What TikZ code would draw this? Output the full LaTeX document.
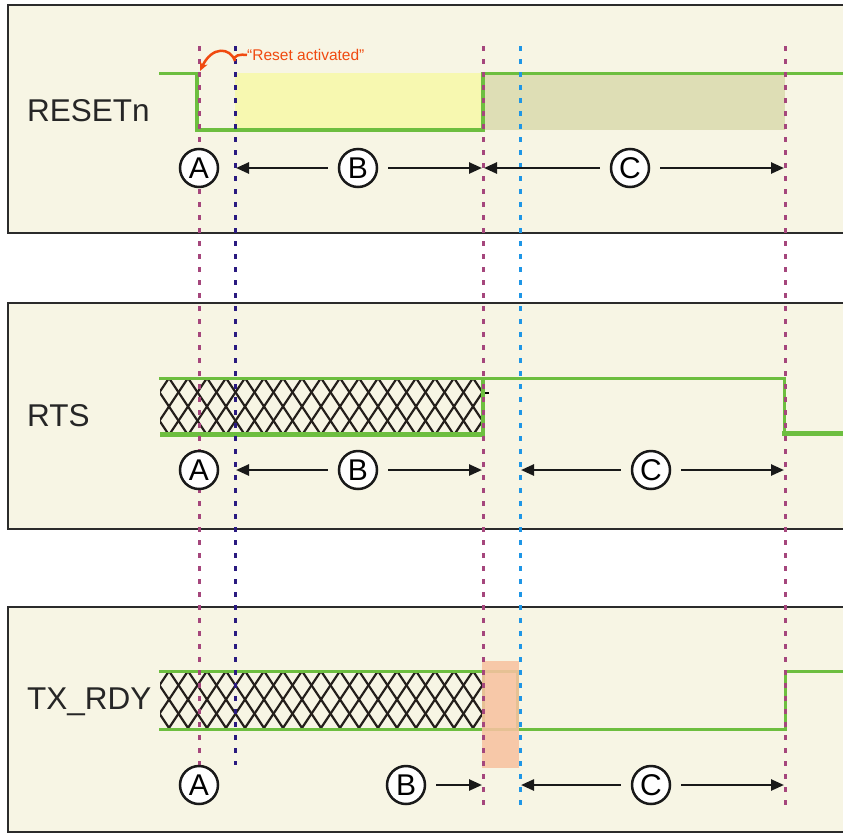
\documentclass[tikz,border=0pt]{standalone}
\usepackage{fontspec}
\setmainfont{Liberation Sans}
\usetikzlibrary{arrows.meta}
\definecolor{panelbg}{HTML}{F7F5E4}
\definecolor{panelln}{HTML}{2B2B2B}
\definecolor{sgreen}{HTML}{6DBE3F}
\definecolor{yell}{HTML}{F7F8B0}
\definecolor{khaki}{HTML}{DEDEB5}
\definecolor{peach}{HTML}{F7C2A0}
\definecolor{magd}{HTML}{A5467C}
\definecolor{navyd}{HTML}{2A1A80}
\definecolor{blued}{HTML}{1E96E6}
\definecolor{orng}{HTML}{F04A10}
\definecolor{hatchc}{HTML}{241F1B}
\tikzset{
  panel/.style={fill=panelbg, draw=panelln, line width=2.2pt},
  sig/.style={draw=sgreen, line width=3pt, line cap=rect},
  sigthick/.style={draw=sgreen, line width=5pt},
  hatchline/.style={draw=hatchc, line width=2.2pt},
  vdash/.style={line width=3pt, dash pattern=on 5pt off 8pt},
  siglabel/.style={font=\fontsize{31.5}{36}\selectfont, text=black!85, inner sep=0pt, anchor=base west},
  markcirc/.style={circle, draw=black!90, fill=white, line width=2.5pt, minimum size=38pt, inner sep=0pt, font=\fontsize{30}{32}\selectfont},
  arr/.style={draw=black!90, line width=2.5pt, -{Triangle[length=13pt,width=11pt]}, shorten <=10pt},
}
\begin{document}
\begin{tikzpicture}[x=1pt,y=-1pt]
\useasboundingbox (0,0) rectangle (843,833);
\fill[white] (0,0) rectangle (843,833);
% panels
\draw[panel] (8,5) rectangle (860,233);
\draw[panel] (8,303) rectangle (860,529);
\draw[panel] (8,607) rectangle (860,832);

% ---------- RESETn ----------
\fill[yell] (235,73) rectangle (483,129);
\fill[khaki] (483,73) rectangle (785,130);
\draw[sig] (160,73) -- (197,73);
\draw[draw=sgreen, line width=4pt] (197,72) -- (197,130);
\draw[draw=sgreen, line width=4.5pt] (195,130) -- (485,130);
\draw[draw=sgreen, line width=3.5pt] (483,132) -- (483,72);
\draw[sig] (483,73) -- (843,73);

% ---------- RTS ----------
\begin{scope}
  \clip (160,378) rectangle (483,434);
  \foreach \k in {-3,...,20} {
    \draw[hatchline] (169+19*\k,378) -- ++(38,57);
    \draw[hatchline] (169+19*\k,378) -- ++(-38,57);
  }
\end{scope}
\draw[sig] (160,378) -- (784,378) -- (784,433);
\draw[sigthick] (782,433) -- (843,433);
\draw[sigthick] (160,434) -- (485,434);
\draw[draw=sgreen, line width=4.5pt] (483,436) -- (483,377);
\draw[draw=black, line width=2.2pt] (485,393) -- (489,393);

% ---------- TX_RDY ----------
\begin{scope}
  \clip (160,671) rectangle (483,729);
  \foreach \k in {-3,...,20} {
    \draw[hatchline] (169+19*\k,671) -- ++(38.7,58);
    \draw[hatchline] (169+19*\k,671) -- ++(-38.7,58);
  }
\end{scope}
\draw[sig] (160,671) -- (517,671) -- (517,729);
\draw[sig] (160,729) -- (785,729) -- (785,671) -- (843,671);
\draw[sig] (483,671) -- (483,729);
\fill[peach, opacity=0.88] (482,661) rectangle (519,768);

% ---------- dashed time markers ----------
\draw[vdash, magd] (199,46) -- (199,805);
\draw[vdash, navyd] (235,46) -- (235,765);
\draw[vdash, magd] (483,46) -- (483,805);
\draw[vdash, blued] (520,46) -- (520,805);
\draw[vdash, magd] (785,46) -- (785,805);

% ---------- labels ----------
\node[siglabel] (lreset) at (27,121) {RESETn};
\node[siglabel] (lrts) at (27,426) {RTS};
\node[siglabel] (ltx) at (27,709) {TX\_RDY};

% "Reset activated"
\node[anchor=west, inner sep=0pt, text=orng, font=\fontsize{15.5}{17}\selectfont] (ract) at (247,55) {“Reset activated”};
\draw[orng, line width=2.5pt, -{Stealth[length=9pt,width=8pt]}]
  (ract.west) .. controls (241,54) and (232,55) .. (235,61)
  .. controls (230,47) and (212,46) .. (200,71);

% ---------- row 1 annotations ----------
\node[markcirc] (a1) at (199,168) {A};
\node[markcirc] (b1) at (358,168) {B};
\node[markcirc] (c1) at (630,168) {C};
\coordinate (b1l) at (236,168);
\coordinate (b1r) at (482,168);
\coordinate (c1l) at (484,168);
\coordinate (c1r) at (784,168);
\draw[arr] (b1) -- (b1l);
\draw[arr] (b1) -- (b1r);
\draw[arr] (c1) -- (c1l);
\draw[arr] (c1) -- (c1r);

% ---------- row 2 annotations ----------
\node[markcirc] (a2) at (199,470) {A};
\node[markcirc] (b2) at (358,470) {B};
\node[markcirc] (c2) at (651,470) {C};
\coordinate (b2l) at (236,470);
\coordinate (b2r) at (482,470);
\coordinate (c2l) at (521,470);
\coordinate (c2r) at (784,470);
\draw[arr] (b2) -- (b2l);
\draw[arr] (b2) -- (b2r);
\draw[arr] (c2) -- (c2l);
\draw[arr] (c2) -- (c2r);

% ---------- row 3 annotations ----------
\node[markcirc] (a3) at (199,785) {A};
\node[markcirc] (b3) at (406,785) {B};
\node[markcirc] (c3) at (651,785) {C};
\coordinate (b3r) at (482,785);
\coordinate (c3l) at (521,785);
\coordinate (c3r) at (784,785);
\draw[arr] (b3) -- (b3r);
\draw[arr] (c3) -- (c3l);
\draw[arr] (c3) -- (c3r);
\end{tikzpicture}
\end{document}
